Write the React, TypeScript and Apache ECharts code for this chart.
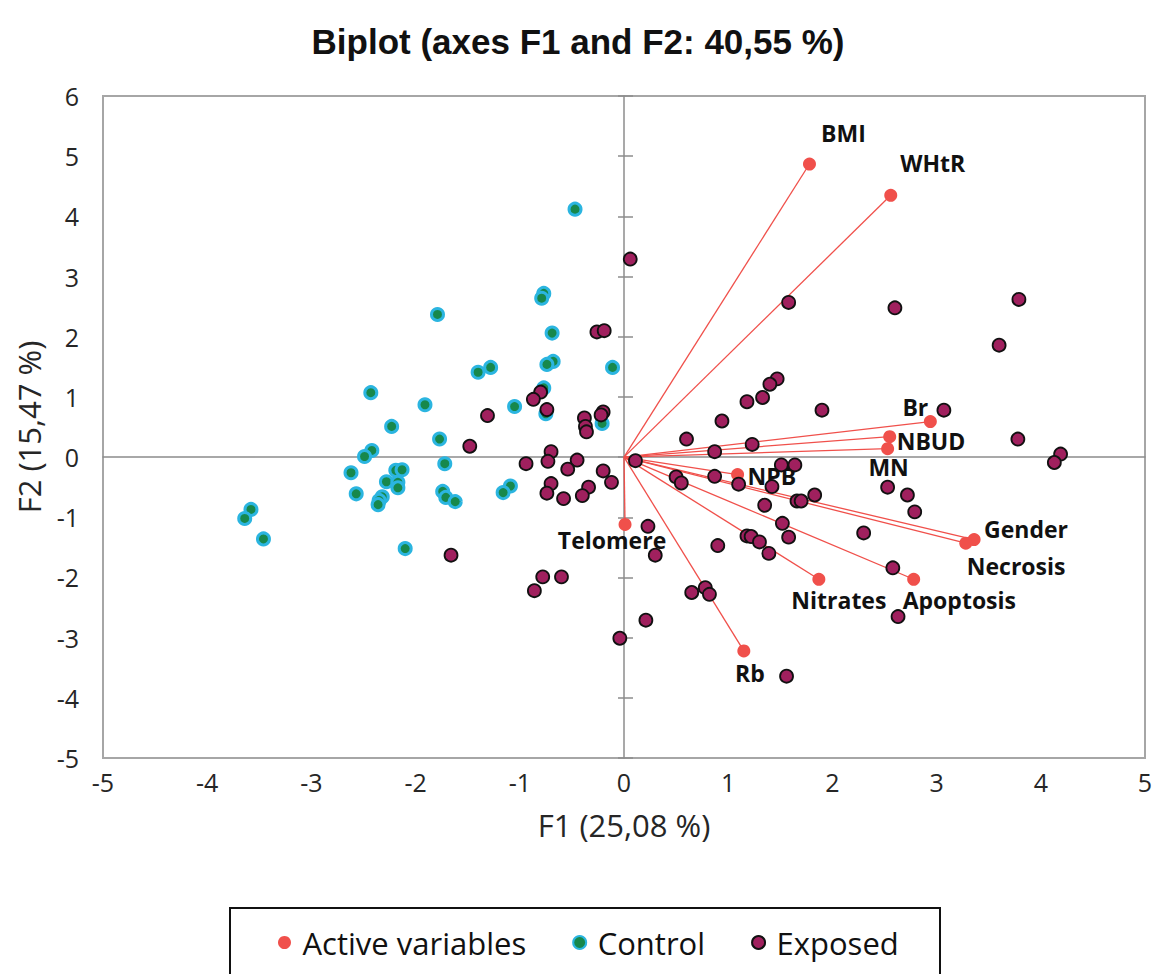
import React, { useEffect, useRef } from "react";
import * as echarts from "echarts";

const titleText = "Biplot (axes F1 and F2: 40,55 %)";
const xName = "F1 (25,08 %)";
const yName = "F2 (15,47 %)";
const xMin = -5, xMax = 5, yMin = -5, yMax = 6;

const activeNames = ["BMI", "WHtR", "Br", "NBUD", "MN", "NPB", "Telomere", "Nitrates", "Rb", "Apoptosis", "Gender", "Necrosis"];
const activeF1 = [1.78, 2.56, 2.94, 2.55, 2.53, 1.09, 0.01, 1.87, 1.15, 2.78, 3.36, 3.28];
const activeF2 = [4.87, 4.35, 0.59, 0.34, 0.14, -0.29, -1.12, -2.03, -3.22, -2.03, -1.37, -1.43];

const controlPoints: [number, number][] = [
  [-0.47, 4.12], [-0.77, 2.72], [-0.79, 2.64], [-1.79, 2.37], [-0.69, 2.06], [-0.68, 1.59],
  [-0.74, 1.54], [-1.28, 1.49], [-1.40, 1.41], [-0.11, 1.49], [-0.77, 1.15], [-2.43, 1.07],
  [-1.91, 0.87], [-1.05, 0.84], [-0.75, 0.72], [-0.21, 0.56], [-2.23, 0.51], [-1.77, 0.30],
  [-2.42, 0.11], [-2.49, 0.01], [-2.62, -0.26], [-1.72, -0.11], [-2.19, -0.22], [-2.13, -0.21],
  [-2.28, -0.41], [-2.17, -0.42], [-2.17, -0.51], [-2.57, -0.61], [-2.32, -0.66], [-2.35, -0.72],
  [-2.36, -0.79], [-1.74, -0.57], [-1.71, -0.67], [-1.62, -0.74], [-1.09, -0.48], [-1.16, -0.59],
  [-3.58, -0.87], [-3.64, -1.02], [-3.46, -1.36], [-2.10, -1.52],
];

const exposedPoints: [number, number][] = [
  [0.06, 3.29], [1.58, 2.57], [2.60, 2.48], [3.79, 2.62], [3.60, 1.86], [1.47, 1.30],
  [1.40, 1.21], [1.18, 0.92], [1.33, 0.99], [1.90, 0.78], [3.07, 0.78], [0.94, 0.60],
  [0.60, 0.30], [1.23, 0.21], [0.87, 0.09], [3.78, 0.30], [4.19, 0.05], [4.13, -0.09],
  [0.11, -0.06], [1.51, -0.13], [1.64, -0.13], [0.50, -0.33], [0.55, -0.43], [0.87, -0.32],
  [1.10, -0.45], [1.42, -0.49], [1.83, -0.63], [1.66, -0.73], [1.70, -0.73], [1.35, -0.80],
  [2.53, -0.50], [2.72, -0.63], [2.79, -0.91], [2.30, -1.26], [1.52, -1.10], [1.58, -1.33],
  [1.18, -1.31], [1.22, -1.32], [1.30, -1.41], [1.39, -1.60], [0.23, -1.15], [0.90, -1.47],
  [0.30, -1.63], [2.58, -1.84], [2.63, -2.65], [0.65, -2.25], [0.78, -2.17], [0.82, -2.28],
  [0.21, -2.71], [-0.04, -3.01], [1.56, -3.64],
  [-0.26, 2.08], [-0.19, 2.10], [-0.80, 1.08], [-0.87, 0.96], [-0.74, 0.79], [-1.31, 0.69],
  [-0.38, 0.65], [-0.37, 0.51], [-0.36, 0.42], [-0.20, 0.75], [-0.22, 0.70], [-1.48, 0.18],
  [-0.94, -0.11], [-0.70, 0.09], [-0.73, -0.07], [-0.45, -0.05], [-0.54, -0.20], [-0.20, -0.23],
  [-0.12, -0.42], [-0.70, -0.44], [-0.74, -0.60], [-0.58, -0.69], [-0.34, -0.50], [-0.40, -0.64],
  [-1.66, -1.63], [-0.78, -1.99], [-0.60, -1.99], [-0.86, -2.22],
];

const legendNames = ["Active variables", "Control", "Exposed"];

// label placement (style only)
const labelLayout: Record<string, { align: string; offset: [number, number] }> = {
  BMI: { align: "center", offset: [34, -31] },
  WHtR: { align: "center", offset: [42, -32] },
  Br: { align: "center", offset: [-15, -15] },
  NBUD: { align: "left", offset: [7, 4] },
  MN: { align: "center", offset: [1, 18] },
  NPB: { align: "left", offset: [10, 1] },
  Telomere: { align: "center", offset: [-13, 16] },
  Nitrates: { align: "center", offset: [20, 21] },
  Rb: { align: "center", offset: [6, 22] },
  Apoptosis: { align: "left", offset: [-11, 21] },
  Gender: { align: "left", offset: [10, -11] },
  Necrosis: { align: "left", offset: [1, 23] },
};

const FONT = "'Open Sans', 'DejaVu Sans', sans-serif";
const RED = "#f0504b";
const AXIS_GREY = "#8c8c8c";

export default function App() {
  const ref = useRef<HTMLDivElement>(null);
  useEffect(() => {
    if (!ref.current) return;
    const chart = echarts.init(ref.current, undefined, { renderer: "svg" });

    const activeData = activeNames.map((n, i) => ({
      name: n,
      value: [activeF1[i], activeF2[i]],
      label: {
        show: true,
        position: "inside",
        align: labelLayout[n].align,
        verticalAlign: "middle",
        offset: labelLayout[n].offset,
        formatter: n,
      },
    }));

    const lineData = activeNames.map((n, i) => ({
      coords: [[0, 0], [activeF1[i], activeF2[i]]],
    }));

    const baseY = { type: "value", min: yMin, max: yMax, interval: 1, splitLine: { show: false } };
    const baseX = { type: "value", min: xMin, max: xMax, interval: 1, splitLine: { show: false } };

    chart.setOption({
      animation: false,
      backgroundColor: "#ffffff",
      title: {
        text: titleText,
        left: "center",
        top: 19,
        textStyle: { fontFamily: "'Liberation Sans', Arial, sans-serif", fontWeight: "bold", fontSize: 35, color: "#111" },
      },
      grid: {
        left: 103,
        right: 11,
        top: 96,
        bottom: 216,
        show: true,
        borderColor: "#a6a6a6",
        borderWidth: 2,
        backgroundColor: "transparent",
      },
      legend: {
        data: legendNames,
        left: 273,
        top: 922,
        itemWidth: 26,
        itemHeight: 13,
        itemGap: 46,
        textStyle: { fontFamily: FONT, fontSize: 31, color: "#111" },
      },
      graphic: [
        { type: "rect", shape: { x: 230, y: 908, width: 710, height: 100 }, style: { fill: "none", stroke: "#111", lineWidth: 2 }, silent: true },
      ],
      xAxis: [
        {
          ...baseX,
          position: "bottom",
          axisLine: { show: false, onZero: false },
          axisTick: { show: false },
          axisLabel: { margin: 11, fontFamily: FONT, fontSize: 25, color: "#262626" },
          name: xName,
          nameLocation: "middle",
          nameGap: 51,
          nameTextStyle: { fontFamily: FONT, fontSize: 31, color: "#262626" },
        },
        {
          ...baseX,
          position: "bottom",
          axisLine: { show: true, onZero: true, onZeroAxisIndex: 0, lineStyle: { color: AXIS_GREY, width: 1.5 } },
          axisTick: { show: false },
          axisLabel: { show: false },
        },
      ],
      yAxis: [
        {
          ...baseY,
          position: "left",
          axisLine: { show: false, onZero: false },
          axisTick: { show: false },
          axisLabel: { margin: 24, fontFamily: FONT, fontSize: 25, color: "#262626" },
          name: yName,
          nameLocation: "middle",
          nameGap: 59,
          nameRotate: 90,
          nameTextStyle: { fontFamily: FONT, fontSize: 31, color: "#262626" },
        },
        {
          ...baseY,
          position: "left",
          axisLine: { show: true, onZero: true, onZeroAxisIndex: 0, lineStyle: { color: AXIS_GREY, width: 1.5 } },
          axisTick: { show: true, inside: false, length: 6, lineStyle: { color: AXIS_GREY, width: 1.5 } },
          axisLabel: { show: false },
        },
        {
          ...baseY,
          position: "left",
          axisLine: { show: false, onZero: true, onZeroAxisIndex: 0 },
          axisTick: { show: true, inside: true, length: 9, lineStyle: { color: AXIS_GREY, width: 1.5 } },
          axisLabel: { show: false },
        },
      ],
      series: [
        {
          type: "lines",
          coordinateSystem: "cartesian2d",
          xAxisIndex: 0,
          yAxisIndex: 0,
          silent: true,
          data: lineData,
          lineStyle: { color: RED, width: 1.3, opacity: 1 },
          z: 2,
        },
        {
          name: legendNames[0],
          type: "scatter",
          xAxisIndex: 0,
          yAxisIndex: 0,
          symbol: "circle",
          symbolSize: 13,
          itemStyle: { color: RED, opacity: 1 },
          label: { fontFamily: FONT, fontWeight: "bold", fontSize: 23, color: "#111" },
          data: activeData,
          z: 3,
        },
        {
          name: legendNames[1],
          type: "scatter",
          xAxisIndex: 0,
          yAxisIndex: 0,
          symbol: "circle",
          symbolSize: 12,
          itemStyle: { color: "#17884c", borderColor: "#2bb5e0", borderWidth: 3, opacity: 1 },
          data: controlPoints,
          z: 4,
        },
        {
          name: legendNames[2],
          type: "scatter",
          xAxisIndex: 0,
          yAxisIndex: 0,
          symbol: "circle",
          symbolSize: 13,
          itemStyle: { color: "#a0205e", borderColor: "#111111", borderWidth: 1.8, opacity: 1 },
          data: exposedPoints,
          z: 5,
        },
      ],
    });
    return () => chart.dispose();
  }, []);
  return <div ref={ref} style={{ position: "absolute", left: 0, top: 0, width: 1156, height: 974 }} />;
}
